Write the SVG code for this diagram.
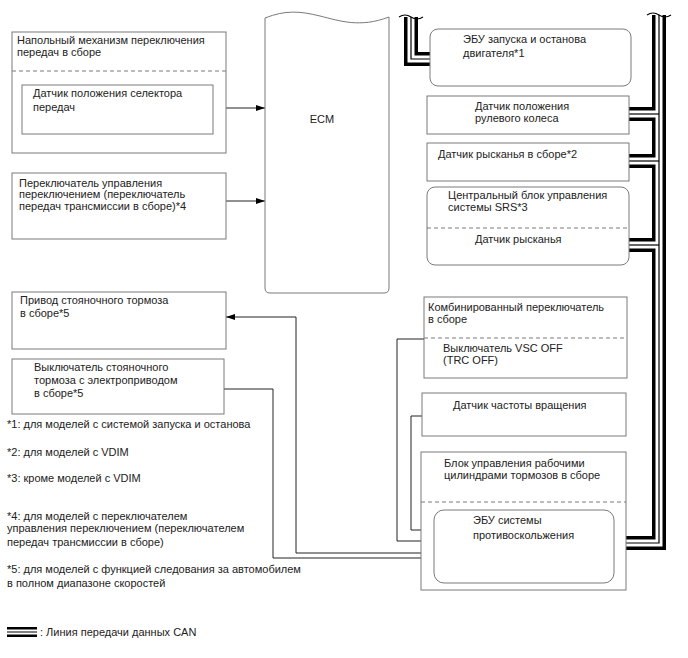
<svg xmlns="http://www.w3.org/2000/svg" width="688" height="658" viewBox="0 0 688 658">
<defs>
<style>
text{font-family:"Liberation Sans",Arial,sans-serif;font-size:11px;fill:#222}
.box{fill:#fff;stroke:#7a7a7a;stroke-width:1}
.dash{stroke:#7a7a7a;stroke-width:1;stroke-dasharray:4,3;fill:none}
.wire{fill:none;stroke:#222;stroke-width:1}
.canB{fill:none;stroke:#000;stroke-width:14;stroke-linejoin:miter}
.canW{fill:none;stroke:#fff;stroke-width:7;stroke-linejoin:miter}
.canT{fill:none;stroke:#000;stroke-width:1.2}
.brk{fill:none;stroke:#000;stroke-width:1.2}
</style>
<marker id="arr" markerWidth="9" markerHeight="6" refX="9" refY="3" orient="auto" markerUnits="userSpaceOnUse">
<path d="M0,0 L9,3 L0,6 z" fill="#000"/>
</marker>
</defs>
<rect width="688" height="658" fill="#fff"/>

<g id="can-bus">
<path class="canB" d="M411,17 V59 H430"/>
<path class="canB" d="M659,15 V543 H614"/>
<path class="canB" d="M629,114 H659"/>
<path class="canB" d="M629,161 H659"/>
<path class="canB" d="M629,245 H659"/>
<path class="canW" d="M411,17 V59 H430"/>
<path class="canW" d="M659,15 V543 H614"/>
<path class="canW" d="M629,114 H659"/>
<path class="canW" d="M629,161 H659"/>
<path class="canW" d="M629,245 H659"/>
<path class="canT" d="M411,17 V59 H430"/>
<path class="canT" d="M659,15 V543 H614"/>
<path class="canT" d="M629,114 H659"/>
<path class="canT" d="M629,161 H659"/>
<path class="canT" d="M629,245 H659"/>
<path class="brk" d="M399,17 q6,-4 12,0 t12,0"/>
<path class="brk" d="M647,15 q6,-4 12,0 t12,0"/>
</g>

<g id="connectors">
<path class="wire" d="M213,108 H265" marker-end="url(#arr)"/>
<path class="wire" d="M226,201 H265" marker-end="url(#arr)"/>
<path class="wire" d="M421,553 H296 V317 H226" marker-end="url(#arr)"/>
<path class="wire" d="M224,389 H273 V558 H434" marker-end="url(#arr)"/>
<path class="wire" d="M424,339 H397 V541 H434" marker-end="url(#arr)"/>
<path class="wire" d="M422,416 H411 V530 H434" marker-end="url(#arr)"/>
</g>

<g id="shift-lever">
<rect class="box" x="12" y="32" width="214" height="121"/>
<line class="dash" x1="12" y1="71" x2="226" y2="71"/>
<text x="17" y="44">Напольный механизм переключения</text>
<text x="17" y="56">передач в сборе</text>
<g id="shift-sensor">
<rect class="box" x="22" y="85" width="191" height="49"/>
<text x="33" y="97">Датчик положения селектора</text>
<text x="33" y="111">передач</text>
</g>
</g>

<g id="shift-switch">
<rect class="box" x="12" y="173" width="214" height="66"/>
<text x="19" y="187">Переключатель управления</text>
<text x="19" y="198">переключением (переключатель</text>
<text x="19" y="210">передач трансмиссии в сборе)*4</text>
</g>

<g id="ecm">
<path class="box" d="M265,18 C285,10 300,11 320,16 C340,21 360,28 389,17 V288 Q389,293 384,293 H270 Q265,293 265,288 Z"/>
<text x="322" y="123" text-anchor="middle">ECM</text>
</g>

<g id="stop-start-ecu">
<rect class="box" x="430" y="29" width="201" height="57" rx="8"/>
<text x="463" y="43">ЭБУ запуска и останова</text>
<text x="463" y="57">двигателя*1</text>
</g>

<g id="steering-sensor">
<rect class="box" x="427" y="96" width="202" height="38"/>
<text x="475" y="110">Датчик положения</text>
<text x="475" y="122">рулевого колеса</text>
</g>

<g id="yaw-sensor">
<rect class="box" x="427" y="143" width="202" height="38"/>
<text x="438" y="158">Датчик рысканья в сборе*2</text>
</g>

<g id="srs">
<rect class="box" x="427" y="187" width="202" height="78" rx="8"/>
<line class="dash" x1="427" y1="228" x2="629" y2="228"/>
<text x="448" y="199">Центральный блок управления</text>
<text x="448" y="211">системы SRS*3</text>
<text x="475" y="243">Датчик рысканья</text>
</g>

<g id="parking-actuator">
<rect class="box" x="12" y="292" width="214" height="57"/>
<text x="20" y="304">Привод стояночного тормоза</text>
<text x="20" y="317">в сборе*5</text>
</g>

<g id="parking-switch">
<rect class="box" x="12" y="359" width="212" height="55"/>
<text x="34" y="371">Выключатель стояночного</text>
<text x="34" y="384">тормоза с электроприводом</text>
<text x="34" y="397">в сборе*5</text>
</g>

<g id="combo-switch">
<rect class="box" x="424" y="297" width="203" height="81"/>
<line class="dash" x1="424" y1="338" x2="627" y2="338"/>
<text x="428" y="311">Комбинированный переключатель</text>
<text x="428" y="323">в сборе</text>
<text x="443" y="352">Выключатель VSC OFF</text>
<text x="443" y="364">(TRC OFF)</text>
</g>

<g id="speed-sensor">
<rect class="box" x="422" y="393" width="204" height="43"/>
<text x="453" y="409">Датчик частоты вращения</text>
</g>

<g id="brake-actuator">
<rect class="box" x="421" y="452" width="205" height="138"/>
<line class="dash" x1="421" y1="502" x2="626" y2="502"/>
<text x="444" y="467">Блок управления рабочими</text>
<text x="444" y="479">цилиндрами тормозов в сборе</text>
<g id="skid-ecu">
<rect class="box" x="434" y="510" width="180" height="73" rx="10"/>
<text x="473" y="524">ЭБУ системы</text>
<text x="473" y="539">противоскольжения</text>
</g>
</g>

<g id="notes">
<text x="7" y="428">*1: для моделей с системой запуска и останова</text>
<text x="7" y="456">*2: для моделей с VDIM</text>
<text x="7" y="482">*3: кроме моделей с VDIM</text>
<text x="7" y="520">*4: для моделей с переключателем</text>
<text x="7" y="532">управления переключением (переключателем</text>
<text x="7" y="546">передач трансмиссии в сборе)</text>
<text x="7" y="573">*5: для моделей с функцией следования за автомобилем</text>
<text x="7" y="587">в полном диапазоне скоростей</text>
</g>

<g id="legend">
<line x1="7" y1="632" x2="37" y2="632" stroke="#000" stroke-width="10"/>
<line x1="7" y1="632" x2="37" y2="632" stroke="#fff" stroke-width="5"/>
<line x1="7" y1="632" x2="37" y2="632" stroke="#000" stroke-width="1"/>
<text x="40" y="636">: Линия передачи данных CAN</text>
</g>
</svg>
